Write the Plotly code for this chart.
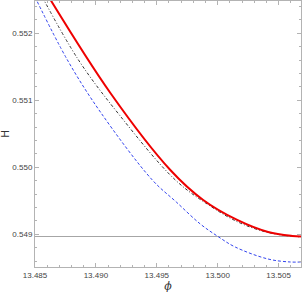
import plotly.graph_objects as go

# Data
red_phi = [13.48578, 13.49119, 13.49611, 13.49881, 13.50160, 13.50414, 13.50611, 13.50684]
red_H = [0.552646, 0.551109, 0.549960, 0.549512, 0.549214, 0.549034, 0.548975, 0.548967]

black_phi = [13.48529, 13.48857, 13.49193, 13.49652, 13.49939, 13.50184, 13.50430, 13.50684]
black_H = [0.552646, 0.551602, 0.550781, 0.549811, 0.549422, 0.549169, 0.549020, 0.548960]

blue_phi = [13.48500, 13.48766, 13.49037, 13.49463, 13.49660, 13.49857, 13.49996, 13.50143, 13.50414, 13.50594, 13.50684]
blue_H = [0.552542, 0.551602, 0.550825, 0.549811, 0.549482, 0.549154, 0.548975, 0.548811, 0.548631, 0.548587, 0.548587]

hline_H = 0.548967
x_range = [13.485, 13.50684]
y_range = [0.548512, 0.552482]
x_ticks = [13.485, 13.490, 13.495, 13.500, 13.505]
x_labels = ["13.485", "13.490", "13.495", "13.500", "13.505"]
y_ticks = [0.549, 0.550, 0.551, 0.552]
y_labels = ["0.549", "0.550", "0.551", "0.552"]

fig = go.Figure()
fig.add_trace(go.Scatter(x=x_range, y=[hline_H, hline_H], mode="lines",
                         line=dict(color="#a6a6a6", width=1), showlegend=False))
fig.add_trace(go.Scatter(x=blue_phi, y=blue_H, mode="lines",
                         line=dict(color="#3344ee", width=1, dash="3px,2px", shape="spline"),
                         showlegend=False))
fig.add_trace(go.Scatter(x=black_phi, y=black_H, mode="lines",
                         line=dict(color="#333333", width=1, dash="3px,2px,1px,2px", shape="spline"),
                         showlegend=False))
fig.add_trace(go.Scatter(x=red_phi, y=red_H, mode="lines",
                         line=dict(color="#ee0000", width=2, shape="spline"),
                         showlegend=False))

axis_common = dict(showgrid=False, zeroline=False, showline=True, linecolor="#b3b3b3",
                   linewidth=1, mirror="allticks", ticks="inside", ticklen=4,
                   tickcolor="#b3b3b3", tickwidth=1, automargin=False,
                   tickfont=dict(family="Liberation Sans, Arial, sans-serif", size=8, color="#444444"))

fig.update_xaxes(range=x_range, tickvals=x_ticks, ticktext=x_labels,
                 minor=dict(dtick=0.001, tick0=13.485, ticks="inside", ticklen=2, tickcolor="#b3b3b3"),
                 title=dict(text="<i>ϕ</i>", standoff=4,
                            font=dict(family="DejaVu Serif, serif", size=11, color="#333333")),
                 **axis_common)
fig.update_yaxes(range=y_range, tickvals=y_ticks, ticktext=y_labels,
                 minor=dict(dtick=0.0002, tick0=0.548, ticks="inside", ticklen=2, tickcolor="#b3b3b3"),
                 title=dict(text="H", standoff=6,
                            font=dict(family="Liberation Sans, Arial, sans-serif", size=10, color="#333333")),
                 **axis_common)

fig.update_layout(width=302, height=293, margin=dict(l=35, r=1, t=1, b=26),
                  plot_bgcolor="white", paper_bgcolor="white")

fig.write_html("out.html", config={"displayModeBar": False},
               post_script="document.body.style.margin='0';document.body.style.padding='0';")
